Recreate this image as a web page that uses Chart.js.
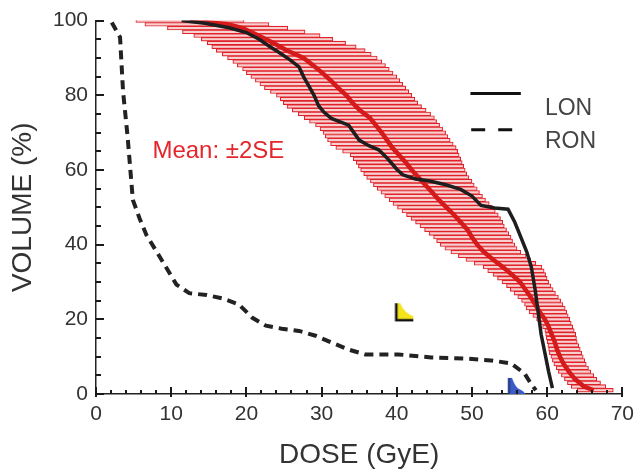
<!DOCTYPE html>
<html>
<head>
<meta charset="utf-8">
<script src="https://cdn.jsdelivr.net/npm/chart.js@4.4.1/dist/chart.umd.min.js"></script>
<style>
  html, body { margin: 0; padding: 0; background: #fff; }
</style>
</head>
<body>
<canvas id="dvhChart" width="642" height="474"></canvas>
<script>
// Dose-volume histogram, values
// dose in GyE, volume in %

// error bars (mean +/- 2SE), one per volume level
const barVolume = [100, 99, 98, 97, 96, 95, 94, 93, 92, 91,
  90, 89, 88, 87, 86, 85, 84, 83, 82, 81,
  80, 79, 78, 77, 76, 75, 74, 73, 72, 71,
  70, 69, 68, 67, 66, 65, 64, 63, 62, 61,
  60, 59, 58, 57, 56, 55, 54, 53, 52, 51,
  50, 49, 48, 47, 46, 45, 44, 43, 42, 41,
  40, 39, 38, 37, 36, 35, 34, 33, 32, 31,
  30, 29, 28, 27, 26, 25, 24, 23, 22, 21,
  20, 19, 18, 17, 16, 15, 14, 13, 12, 11,
  10, 9, 8, 7, 6, 5, 4, 3, 2, 1];
const errLow = [5.3, 6.5, 9.5, 11.5, 13.0, 14.0, 14.8, 15.4, 16.0, 16.8,
  17.5, 18.2, 18.8, 19.5, 20.0, 20.6, 21.2, 21.8, 22.4, 23.2,
  24.0, 24.5, 24.9, 25.4, 26.1, 26.9, 27.7, 28.4, 29.2, 29.8,
  30.2, 30.5, 30.8, 31.2, 31.9, 32.8, 33.8, 34.2, 34.6, 34.9,
  35.2, 35.6, 36.0, 36.5, 36.9, 37.4, 37.9, 38.4, 39.0, 39.5,
  40.1, 40.7, 41.3, 41.9, 42.5, 43.1, 43.7, 44.3, 44.9, 45.3,
  45.8, 46.4, 47.2, 48.2, 49.2, 50.3, 51.5, 52.1, 52.8, 53.4,
  54.0, 54.6, 55.1, 55.6, 56.1, 56.6, 57.0, 57.2, 57.6, 58.1,
  58.6, 59.0, 59.4, 59.7, 59.8, 59.9, 60.0, 60.1, 60.2, 60.3,
  60.5, 60.7, 60.9, 61.2, 61.5, 61.9, 62.3, 62.7, 63.2, 64.0];
const errHigh = [19.7, 23.0, 25.5, 27.8, 29.8, 31.5, 33.2, 34.6, 35.8, 36.6,
  37.4, 38.0, 38.5, 39.0, 39.5, 40.0, 40.4, 40.8, 41.2, 41.6,
  42.0, 42.4, 42.8, 43.3, 43.9, 44.5, 45.0, 45.3, 45.7, 46.1,
  46.5, 46.8, 47.1, 47.5, 47.9, 48.1, 48.3, 48.5, 48.7, 48.9,
  49.1, 49.3, 49.6, 50.0, 50.3, 50.7, 51.0, 51.4, 51.8, 52.3,
  52.7, 53.1, 53.5, 53.8, 54.1, 54.3, 54.6, 54.9, 55.2, 55.4,
  55.7, 56.0, 56.5, 57.2, 57.8, 58.5, 59.3, 59.6, 59.8, 60.0,
  60.2, 60.5, 60.8, 61.1, 61.5, 61.8, 62.1, 62.4, 62.6, 62.8,
  63.0, 63.2, 63.4, 63.6, 63.8, 63.9, 64.0, 64.2, 64.4, 64.6,
  64.8, 65.0, 65.2, 65.5, 65.8, 66.2, 66.6, 67.1, 67.8, 68.8];

// mean curve
const meanVolume = [100, 99, 98, 96, 94, 92, 90, 88, 86, 84, 82, 80, 78, 76, 74, 72, 70, 68, 66, 64,
  62, 60, 58, 56, 54, 52, 50, 48, 46, 44, 42, 40, 38, 36, 34, 32, 30, 28, 26, 24,
  22, 20, 18, 16, 14, 12, 10, 8, 6, 4, 2, 1];
const meanDose = [12.5, 17.5, 19.5, 21.6, 23.6, 25.4, 27.6, 28.9, 30.1, 31.2, 32.2, 33.3, 34.1, 35.1, 36.4, 37.2, 38.0, 38.7, 39.4, 40.3,
  41.2, 42.0, 42.9, 43.8, 44.7, 45.6, 46.6, 47.6, 48.5, 49.4, 50.0, 50.7, 51.6, 52.8, 54.1, 55.3, 56.4, 57.1, 57.8, 58.4,
  59.0, 59.7, 60.2, 60.6, 61.0, 61.3, 61.7, 62.2, 62.9, 63.7, 64.9, 66.2];

// LON (solid black)
const lonDose = [11.4, 14.5, 17.7, 20.0, 21.7, 23.0, 24.3, 25.8, 27.0, 27.6, 28.3, 29.0, 29.6, 30.3, 31.3, 33.6, 34.3, 35.0, 36.3, 37.6,
  38.8, 40.0, 40.8, 42.5, 44.2, 46.4, 48.5, 50.0, 51.2, 53.0, 54.8, 55.7, 56.5, 57.3, 57.9, 58.4, 58.8, 59.2, 59.7, 60.2, 60.7];
const lonVolume = [100, 99.3, 98.1, 96.8, 95.0, 93.2, 91.5, 89.5, 87.6, 85.0, 82.5, 80.0, 77.2, 75.5, 73.8, 72.0, 70.0, 68.0, 66.5, 65.4,
  63.0, 60.2, 58.7, 57.6, 57.1, 56.1, 54.8, 53.0, 50.5, 49.8, 49.5, 46.0, 42.0, 38.0, 34.0, 28.0, 22.0, 16.0, 11.0, 6.0, 1.6];

// RON (dashed black)
const ronDose = [2.1, 3.2, 3.6, 4.2, 4.9, 5.8, 6.7, 8.1, 10.7, 12.4, 14.7, 16.8, 19.0, 20.8, 22.6, 24.7, 27.0, 29.2, 31.3, 33.6,
  35.8, 40.2, 44.6, 49.0, 52.5, 55.2, 57.0, 57.8, 58.5];
const ronVolume = [99.5, 95.5, 81.0, 69.0, 52.0, 47.0, 42.6, 38.0, 29.3, 27.0, 26.5, 25.6, 24.0, 20.4, 18.3, 17.5, 16.9, 15.6, 13.8, 11.9,
  10.6, 10.6, 9.8, 9.5, 9.0, 8.2, 5.5, 2.9, 1.0];

// the two small corner markers
const markerDose = [41.0, 56.0];
const markerVolume = [21.9, 1.9];

// tick positions (minor and major) along both axes
const xMinorTicks = [0, 2, 4, 6, 8, 10, 12, 14, 16, 18, 20, 22, 24, 26, 28, 30, 32, 34,
  36, 38, 40, 42, 44, 46, 48, 50, 52, 54, 56, 58, 60, 62, 64, 66, 68, 70];
const yMinorTicks = [0, 5, 10, 15, 20, 25, 30, 35, 40, 45, 50, 55, 60, 65, 70, 75, 80, 85, 90, 95, 100];

const FONT = '"Liberation Sans", Arial, Helvetica, sans-serif';
Chart.defaults.font.family = FONT;

// corner-shaped marker drawn on a small canvas, used as pointStyle
function cornerMarker(fill, edge, rounded) {
    const c = document.createElement('canvas');
    c.width = 20;
    c.height = 20;
    const g = c.getContext('2d');
    g.fillStyle = fill;
    g.beginPath();
    if (rounded) {
        g.moveTo(2, 18);
        g.lineTo(2, 1);
        g.lineTo(5, 1);
        g.quadraticCurveTo(8, 10, 12, 12);
        g.quadraticCurveTo(17, 14, 19, 18);
    } else {
        g.moveTo(2, 1);
        g.lineTo(6, 1);
        g.quadraticCurveTo(9, 10, 19, 14);
        g.lineTo(19, 18);
        g.lineTo(2, 18);
    }
    g.closePath();
    g.fill();
    g.strokeStyle = edge;
    g.lineWidth = 2.5;
    g.beginPath();
    g.moveTo(2, 1);
    g.lineTo(2, 18);
    if (!rounded) g.lineTo(19, 18);
    g.stroke();
    return c;
}

// inward tick marks, legend and the "Mean" note
const figureExtras = {
    id: 'figureExtras',
    afterDraw(chart) {
        const ctx = chart.ctx;
        const x = chart.scales.x;
        const y = chart.scales.y;
        const axisX = x.getPixelForValue(0);
        const axisY = y.getPixelForValue(0);
        ctx.save();
        ctx.setLineDash([]);

        // small inward ticks like the original figure
        ctx.fillStyle = '#1a1a1a';
        xMinorTicks.forEach(function(v) {
            const px = Math.round(x.getPixelForValue(v));
            const major = v % 10 === 0;
            const len = major ? 7 : 4;
            ctx.fillRect(px - 1, axisY - len, 2, len + (major ? 3 : 0));
        });
        yMinorTicks.forEach(function(v) {
            const py = Math.round(y.getPixelForValue(v));
            const len = v % 20 === 0 ? 8 : 5;
            ctx.fillRect(axisX, py - 1, len, 2);
        });

        // legend lines
        ctx.strokeStyle = '#111';
        ctx.lineWidth = 3;
        ctx.beginPath();
        ctx.moveTo(x.getPixelForValue(49.8), y.getPixelForValue(80.5));
        ctx.lineTo(x.getPixelForValue(56.5), y.getPixelForValue(80.5));
        ctx.stroke();
        ctx.setLineDash([14, 13]);
        ctx.beginPath();
        ctx.moveTo(x.getPixelForValue(49.9), y.getPixelForValue(70.8));
        ctx.lineTo(x.getPixelForValue(56.0), y.getPixelForValue(70.8));
        ctx.stroke();
        ctx.setLineDash([]);

        // legend labels
        ctx.fillStyle = '#444';
        ctx.font = '23px ' + FONT;
        ctx.textBaseline = 'middle';
        ctx.textAlign = 'left';
        ctx.fillText('LON', x.getPixelForValue(59.7), y.getPixelForValue(76.5));
        ctx.fillText('RON', x.getPixelForValue(59.7), y.getPixelForValue(67.5));

        // mean note
        ctx.fillStyle = '#e3262b';
        ctx.font = '24px ' + FONT;
        ctx.fillText('Mean: \u00b12SE', x.getPixelForValue(7.5), y.getPixelForValue(65));
        ctx.restore();
    }
};

const ctx = document.getElementById('dvhChart').getContext('2d');

new Chart(ctx, {
    type: 'line',
    data: {
        datasets: [
            {
                label: 'markers',
                data: markerDose.map((d, i) => ({x: d, y: markerVolume[i]})),
                showLine: false,
                pointStyle: [cornerMarker('#f4e41c', '#111', false), cornerMarker('#3a5cc4', '#2a3f8f', true)],
                pointRadius: 10,
                order: 0
            },
            {
                label: 'LON',
                data: lonDose.map((d, i) => ({x: d, y: lonVolume[i]})),
                borderColor: '#1e1e1e',
                borderWidth: 3.5,
                pointRadius: 0,
                tension: 0,
                order: 1
            },
            {
                label: 'RON',
                data: ronDose.map((d, i) => ({x: d, y: ronVolume[i]})),
                borderColor: '#222',
                borderWidth: 4,
                borderDash: [9, 6],
                borderCapStyle: 'butt',
                pointRadius: 0,
                tension: 0,
                order: 2
            },
            {
                label: 'Mean',
                data: meanDose.map((d, i) => ({x: d, y: meanVolume[i]})),
                borderColor: '#d41a1a',
                borderWidth: 4.5,
                pointRadius: 0,
                tension: 0,
                order: 3
            },
            {
                type: 'bar',
                label: '2SE',
                indexAxis: 'y',
                data: barVolume.map((v, i) => ({y: v, x: [errLow[i], errHigh[i]]})),
                backgroundColor: '#f8d0d0',
                borderColor: '#e0222a',
                borderWidth: 1.1,
                borderSkipped: false,
                barPercentage: 1,
                categoryPercentage: 1,
                grouped: false,
                order: 4
            }
        ]
    },
    options: {
        responsive: false,
        animation: false,
        devicePixelRatio: 1,
        layout: {
            padding: {top: 16, right: 17, left: 0, bottom: 0}
        },
        plugins: {
            legend: {display: false},
            tooltip: {enabled: false}
        },
        scales: {
            x: {
                type: 'linear',
                min: 0,
                max: 70,
                offset: false,
                afterFit: function(scale) { scale.height = 80; },
                ticks: {
                    stepSize: 10,
                    padding: 8,
                    maxRotation: 0,
                    color: '#333',
                    font: {size: 21}
                },
                grid: {display: false, drawTicks: false},
                border: {display: true, color: '#222', width: 1.5},
                title: {
                    display: true,
                    text: 'DOSE (GyE)',
                    color: '#333',
                    font: {size: 28, lineHeight: 1},
                    padding: {top: 0, bottom: 5}
                }
            },
            y: {
                type: 'linear',
                min: 0,
                max: 100,
                offset: false,
                afterFit: function(scale) { scale.width = 96; },
                ticks: {
                    stepSize: 20,
                    padding: 8,
                    color: '#333',
                    font: {size: 21}
                },
                grid: {display: false, drawTicks: false},
                border: {display: true, color: '#222', width: 1.5},
                title: {
                    display: true,
                    text: 'VOLUME (%)',
                    color: '#333',
                    font: {size: 28, lineHeight: 1},
                    padding: {top: 9, bottom: 0}
                }
            }
        }
    },
    plugins: [figureExtras]
});
</script>
</body>
</html>
